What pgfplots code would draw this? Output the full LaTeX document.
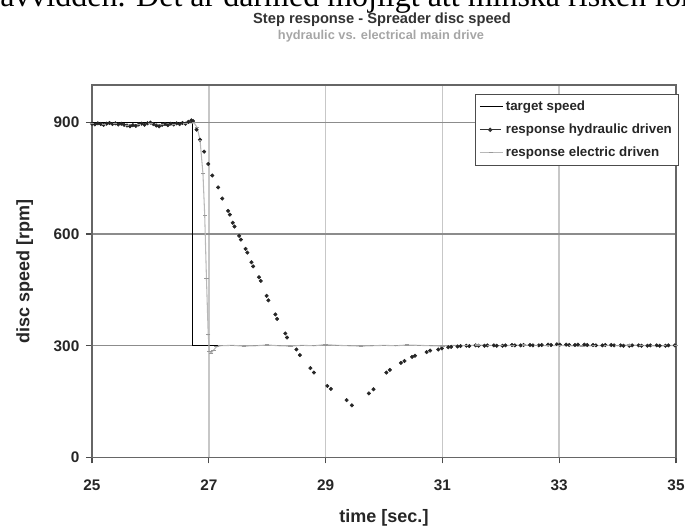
\documentclass[border=0pt]{standalone}
\usepackage{fontspec}
\setmainfont{Liberation Sans}
\newfontfamily\serif{Liberation Serif}
\usepackage{pgfplots}
\pgfplotsset{compat=1.18}
\begin{document}
\begin{tikzpicture}[x=0.75pt,y=0.75pt]
\useasboundingbox (0,0) rectangle (685,527);
\clip (0,0) rectangle (685,527);
\node[anchor=base west, font=\serif\fontsize{24}{28}\selectfont, inner sep=0] at (0,520) {avvidden. Det är därmed möjligt att minska risken för};
\node[font=\bfseries\fontsize{11}{13}\selectfont, color=black!80] at (382,507) {Step response - Spreader disc speed};
\node[font=\bfseries\fontsize{9.6}{11}\selectfont, color=black!35] at (381,491) {hydraulic vs. electrical main drive};
\begin{axis}[
  at={(69pt,52.125pt)}, anchor=south west,
  scale only axis, width=438pt, height=279.4pt,
  xmin=25, xmax=35, ymin=0, ymax=1000,
  xtick={25,27,...,35}, ytick={0,300,600,900},
  xmajorgrids, ymajorgrids,
  x grid style={draw=black!22, line width=1.3pt},
  y grid style={draw=black!45, line width=0.8pt},
  axis line style={draw=black!60, line width=0.9pt},
  tick align=outside, tick pos=left, major tick length=4.5pt,
  tick style={draw=black!70, line width=0.8pt},
  /pgf/number format/assume math mode=true,
  tick label style={font=\bfseries\fontsize{11.5}{13}\selectfont, text=black!85},
  xticklabel style={yshift=-8.5pt},
  yticklabel style={xshift=-1.5pt},
  xlabel={time [sec.]}, ylabel={disc speed [rpm]},
  every axis x label/.style={at={(axis description cs:0.5,-0.174)}, anchor=base, font=\bfseries\fontsize{13.5}{15}\selectfont, text=black!85},
  every axis y label/.style={at={(axis description cs:-0.115,0.5)}, rotate=90, anchor=center, font=\bfseries\fontsize{13.5}{15}\selectfont, text=black!85},
  legend style={at={(1.005,0.976)}, anchor=north east, draw=black!70, line width=0.6pt, fill=white,
    font=\bfseries\fontsize{10}{12}\selectfont, text=black!85, inner sep=3pt, row sep=4.5pt},
  legend cell align=left,
]
\addplot[black, line width=1pt] coordinates {(25,900) (26.72,900) (26.72,300) (27.2,300)};
\addlegendentry{target speed}
\addplot[only marks, mark=*, mark size=1.3pt, black!85,
  legend image code/.code={\draw[black!80, line width=0.8pt] (0cm,0cm) -- (0.55cm,0cm); \fill[black!80] (0.275cm,0cm) circle (1.3pt);}]
coordinates {
(25.00,896) (25.05,894) (25.10,897) (25.15,895) (25.20,893) (25.25,896) (25.30,898) (25.35,895)
(25.40,897) (25.45,894) (25.50,896) (25.55,893) (25.60,891) (25.65,889) (25.70,892) (25.75,890)
(25.80,894) (25.85,896) (25.90,893) (25.95,897) (26.00,899) (26.05,895) (26.10,891) (26.15,889)
(26.20,893) (26.25,895) (26.30,892) (26.35,896) (26.40,894) (26.45,897) (26.50,895) (26.55,898)
(26.60,896) (26.65,901) (26.70,905) (26.73,903)
(26.79,880) (26.85,853) (26.92,821) (26.99,788) (27.06,757) (27.16,725) (27.23,695)
(27.33,662) (27.36,652) (27.41,630) (27.44,620) (27.52,595) (27.55,585) (27.63,560) (27.66,550)
(27.73,524) (27.76,513) (27.86,484) (27.89,474) (27.99,434) (28.02,422) (28.14,384) (28.17,372)
(28.31,333) (28.34,322) (28.50,290) (28.56,275) (28.74,240) (28.80,228) (29.03,192) (29.09,184)
(29.36,154) (29.45,140) (29.74,172) (29.82,183) (30.04,228) (30.10,235) (30.29,254) (30.35,259)
(30.48,270) (30.53,273) (30.73,283) (30.79,287) (30.93,290) (30.99,293)
(31.10,296) (31.15,297) (31.26,298) (31.31,299) (31.41,300) (31.46,299) (31.57,301) (31.62,300)
(31.72,300) (31.77,301) (31.88,301) (31.93,300) (32.03,300) (32.08,301) (32.19,302) (32.24,301)
(32.34,301) (32.39,302) (32.50,302) (32.55,301) (32.65,301) (32.70,302) (32.81,303) (32.86,302)
(32.96,304) (33.01,303) (33.12,303) (33.17,302) (33.27,302) (33.32,303) (33.43,303) (33.48,302)
(33.58,302) (33.63,301) (33.74,301) (33.79,302) (33.89,302) (33.94,301) (34.05,301) (34.10,300)
(34.20,300) (34.25,301) (34.36,301) (34.41,300) (34.51,300) (34.56,301) (34.67,301) (34.72,300)
(34.82,300) (34.87,301) (34.98,301)
};
\addlegendentry{response hydraulic driven}
\addplot[black!28, line width=0.8pt, mark=-, mark size=1.6pt, mark options={black!40}] coordinates {
(25.0,896) (25.2,894) (25.4,896) (25.6,892) (25.8,894) (26.0,897) (26.2,893) (26.4,895) (26.6,897)
(26.75,898) (26.8,886) (26.85,852) (26.9,762) (26.93,650) (26.96,480) (26.99,330) (27.01,285)
(27.04,280) (27.08,288) (27.13,297)
(27.2,300) (27.4,301) (27.6,299) (27.8,300) (28.0,302) (28.2,300) (28.4,299) (28.6,301) (28.8,300)
(29.0,303) (29.2,301) (29.4,300) (29.6,299) (29.8,300) (30.0,301) (30.2,300) (30.4,302) (30.6,301)
(30.8,300) (31.0,299) (31.2,301) (31.4,300) (31.6,302) (31.8,301) (32.0,300) (32.2,301) (32.4,302)
(32.6,301) (32.8,300) (33.0,301) (33.2,300) (33.4,299) (33.6,300) (33.8,301) (34.0,300) (34.2,302)
(34.4,301) (34.6,300) (34.8,300) (35.0,301)
};
\addlegendentry{response electric driven}
\end{axis}
\end{tikzpicture}
\end{document}
